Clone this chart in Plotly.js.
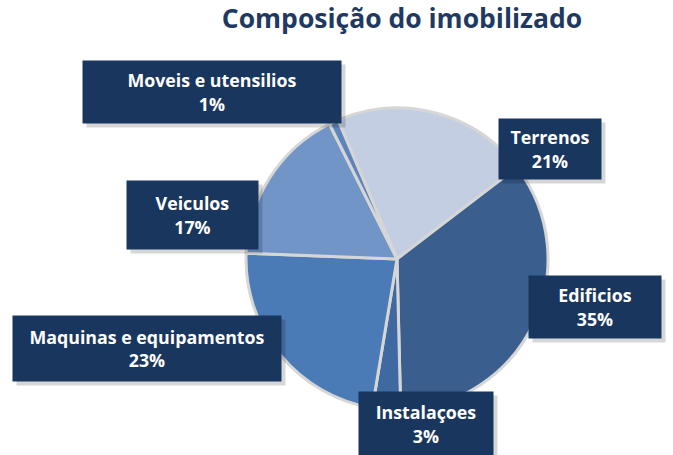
<!DOCTYPE html>
<html>
<head>
<meta charset="utf-8">
<script src="https://cdn.plot.ly/plotly-3.0.1.min.js"></script>
<style>html,body{margin:0;padding:0;background:#fff;}#chart{width:673px;height:455px;}</style>
</head>
<body>
<div id="chart"></div>
<script>
const categories = ["Terrenos", "Edificios", "Instalaçoes", "Maquinas e equipamentos", "Veiculos", "Moveis e utensilios"];
const shares = [21, 35, 3, 23, 17, 1];
const sliceColors = ["#c3cee3", "#3a5e8d", "#3f69a1", "#4a7bb6", "#7195c7", "#5d84bd"];

// label box placement (paper pixels): center x, center y, width, height
const boxes = [
  [550, 149, 100, 58],
  [595, 307, 130, 60],
  [426, 424, 132, 62],
  [147, 348, 266, 63],
  [192, 215, 129, 66],
  [212, 92, 256, 60]
];

const W = 673, H = 455;
const cx = 397, cy = 259, r = 151;

const annotations = [];
categories.forEach((c, i) => {
  const b = boxes[i];
  const txt = c + "<br>" + shares[i] + "%";
  annotations.push({
    xref: "paper", yref: "paper",
    x: (b[0] + 4) / W, y: 1 - (b[1] + 4) / H,
    xanchor: "center", yanchor: "middle",
    text: "", width: b[2], height: b[3],
    bgcolor: "rgba(0,0,0,0.16)", showarrow: false
  });
  annotations.push({
    xref: "paper", yref: "paper",
    x: b[0] / W, y: 1 - b[1] / H,
    xanchor: "center", yanchor: "middle",
    text: "<b>" + txt + "</b>", width: b[2], height: b[3],
    align: "center", valign: "middle",
    bgcolor: "#19365e", showarrow: false,
    font: {family: "'Open Sans', sans-serif", size: 17.8, color: "#ffffff"}
  });
});

const data = [{
  type: "pie",
  values: shares,
  labels: categories,
  sort: false,
  direction: "clockwise",
  rotation: -23,
  textinfo: "none",
  hoverinfo: "label+percent",
  marker: {colors: sliceColors, line: {color: "#d6d6d6", width: 3}},
  domain: {x: [(cx - r) / W, (cx + r) / W], y: [1 - (cy + r) / H, 1 - (cy - r) / H]},
  showlegend: false
}];

const layout = {
  width: W, height: H,
  margin: {l: 0, r: 0, t: 0, b: 0},
  paper_bgcolor: "#ffffff",
  title: {
    text: "<b>Composição do imobilizado</b>",
    x: 402 / W, xanchor: "center",
    y: 1 - 19 / H, yanchor: "middle",
    font: {family: "'Open Sans', sans-serif", size: 26.5, color: "#1f3a62"}
  },
  annotations: annotations,
  showlegend: false
};

Plotly.newPlot("chart", data, layout, {displayModeBar: false, staticPlot: true});
</script>
</body>
</html>
